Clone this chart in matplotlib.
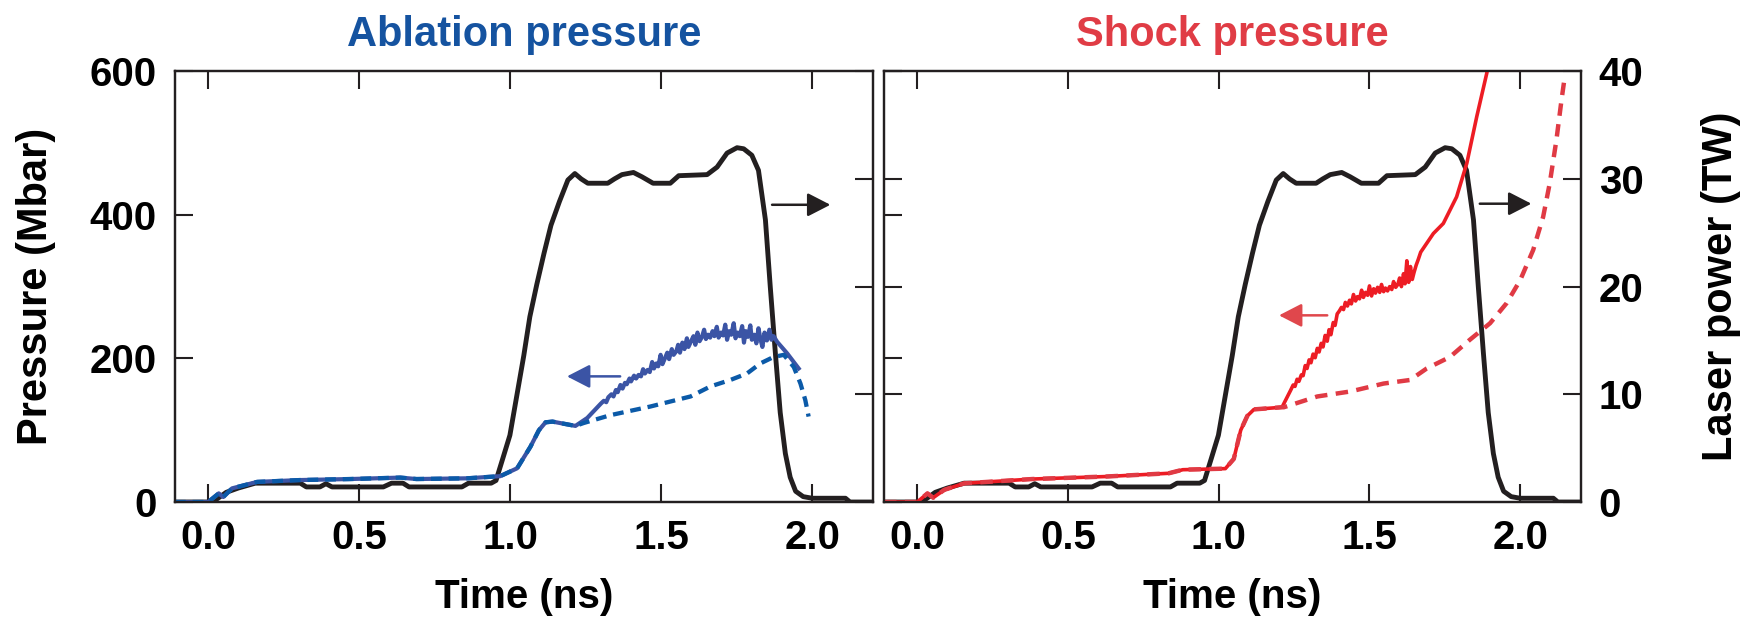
import matplotlib.pyplot as plt

# laser pulse (TW), same pulse drawn in both panels
laser_t = [-0.11, 0.0, 0.03, 0.06, 0.10, 0.156, 0.305, 0.325, 0.37, 0.39, 0.41, 0.58,
           0.607, 0.645, 0.665, 0.84, 0.862, 0.937, 0.953, 0.975, 0.999, 1.022, 1.045,
           1.065, 1.088, 1.112, 1.135, 1.163, 1.191, 1.214, 1.235, 1.257, 1.323, 1.345,
           1.370, 1.408, 1.436, 1.473, 1.530, 1.558, 1.652, 1.685, 1.718, 1.751, 1.773,
           1.800, 1.822, 1.845, 1.861, 1.878, 1.894, 1.911, 1.927, 1.945, 1.97, 2.0,
           2.11, 2.125, 2.2]
laser_tw = [0, 0, 0.3, 0.9, 1.3, 1.75, 1.75, 1.4, 1.4, 1.7, 1.4, 1.4,
            1.75, 1.75, 1.4, 1.4, 1.75, 1.75, 2.0, 4.0, 6.2, 9.9, 13.6,
            17.2, 20.2, 23.1, 25.7, 27.9, 29.9, 30.5, 30.0, 29.6, 29.6, 30.0,
            30.4, 30.6, 30.2, 29.6, 29.6, 30.3, 30.4, 31.1, 32.4, 32.9, 32.8,
            32.2, 30.8, 26.2, 20.0, 13.8, 8.3, 4.5, 2.3, 1.0, 0.5, 0.35,
            0.35, 0, 0]

# ablation pressure (Mbar): common early part, then solid and dashed branches
abl_early_t = [-0.11, 0.0, 0.035, 0.05, 0.079, 0.162, 0.305, 0.47, 0.636, 0.69, 0.857,
               0.967, 1.023, 1.067, 1.095, 1.117, 1.14, 1.216]
abl_early_p = [0, 0, 12, 7, 19, 28, 30.6, 32, 34, 32, 33,
               36, 47, 77, 100, 111, 112, 106]
abl_solid_t = [1.255, 1.30, 1.31, 1.318, 1.325, 1.335, 1.342, 1.35, 1.356, 1.365, 1.372,
               1.38, 1.386, 1.395, 1.40, 1.41, 1.417, 1.425, 1.433, 1.44, 1.446, 1.455,
               1.462, 1.47, 1.476, 1.484, 1.49, 1.498, 1.504, 1.512, 1.52, 1.526, 1.535,
               1.541, 1.55, 1.556, 1.562, 1.57, 1.577, 1.585, 1.59, 1.60, 1.607, 1.613,
               1.62, 1.627, 1.635, 1.642, 1.648, 1.655, 1.662, 1.67, 1.676, 1.684, 1.69,
               1.698, 1.705, 1.712, 1.718, 1.725, 1.732, 1.74, 1.746, 1.753, 1.76, 1.768,
               1.774, 1.78, 1.787, 1.795, 1.80, 1.808, 1.815, 1.822, 1.828, 1.835, 1.842,
               1.85, 1.858, 1.865, 1.872, 1.884, 1.917, 1.955]
abl_solid_p = [117, 137, 141, 139, 146, 150, 147, 156, 153, 163, 158,
               166, 164, 172, 168, 176, 172, 177, 175, 185, 179, 184,
               181, 195, 186, 193, 189, 205, 192, 200, 208, 199, 213,
               205, 210, 219, 208, 222, 213, 228, 216, 225, 231, 219,
               236, 224, 230, 240, 227, 233, 229, 238, 231, 244, 229,
               236, 232, 247, 226, 238, 233, 249, 228, 236, 231, 245,
               222, 238, 230, 246, 226, 233, 221, 242, 228, 216, 236,
               225, 240, 226, 231, 223, 207, 186]
abl_dash_t = [1.243, 1.332, 1.464, 1.597, 1.663, 1.729, 1.784, 1.828, 1.872, 1.906,
              1.939, 1.961, 1.977, 1.988]
abl_dash_p = [110, 121, 133, 147, 161, 170, 179, 193, 202, 205,
              188, 165, 142, 119]

# shock pressure (Mbar)
shk_early_t = [-0.11, 0.0, 0.034, 0.053, 0.09, 0.156, 0.382, 0.627, 0.834, 0.881,
               1.022, 1.05, 1.073, 1.095, 1.117, 1.21]
shk_early_p = [0, 0, 12, 6, 17, 26, 32, 35.5, 40, 45,
               46.5, 60, 100, 120, 129, 132]
shk_solid_t = [1.239, 1.247, 1.253, 1.26, 1.266, 1.274, 1.28, 1.287, 1.293, 1.30, 1.306,
               1.313, 1.32, 1.327, 1.333, 1.34, 1.346, 1.353, 1.36, 1.366, 1.372, 1.38,
               1.386, 1.393, 1.40, 1.407, 1.414, 1.42, 1.427, 1.434, 1.44, 1.447, 1.454,
               1.46, 1.467, 1.474, 1.48, 1.487, 1.494, 1.50, 1.507, 1.514, 1.52, 1.527,
               1.534, 1.54, 1.547, 1.553, 1.56, 1.567, 1.574, 1.58, 1.587, 1.594, 1.60,
               1.606, 1.613, 1.618, 1.624, 1.63, 1.636, 1.642, 1.648, 1.655, 1.662, 1.67,
               1.712, 1.745, 1.789, 1.823, 1.856, 1.889, 1.90]
shk_solid_p = [156, 163, 161, 171, 168, 177, 176, 190, 186, 198, 194,
               206, 201, 214, 209, 221, 216, 232, 224, 240, 233, 250,
               246, 262, 266, 271, 268, 278, 273, 281, 276, 289, 280,
               286, 283, 295, 285, 292, 288, 301, 287, 297, 291, 299,
               292, 303, 293, 298, 294, 300, 296, 307, 299, 303, 312,
               300, 318, 304, 336, 306, 328, 310, 320, 330, 338, 348,
               374, 388, 425, 472, 537, 597, 620]
shk_dash_t = [1.216, 1.327, 1.437, 1.547, 1.635, 1.690, 1.767, 1.833, 1.900, 1.955,
              2.0, 2.043, 2.076, 2.098, 2.12, 2.137, 2.147]
shk_dash_p = [132, 147, 154, 165, 170, 186, 202, 226, 249, 277,
              309, 351, 397, 444, 504, 560, 590]

# arrows (tail, head) in data units: pressure arrows in Mbar, laser arrows in TW
abl_arrow = [(1.364, 175), (1.188, 175)]
shk_arrow = [(1.360, 260), (1.200, 260)]
laser_arrow_l = [(1.867, 27.6), (2.06, 27.6)]
laser_arrow_r = [(1.866, 27.7), (2.037, 27.7)]

x_ticks = [0.0, 0.5, 1.0, 1.5, 2.0]
x_labels = ['0.0', '0.5', '1.0', '1.5', '2.0']
p_ticks = [0, 200, 400, 600]
tw_ticks = [0, 10, 20, 30, 40]

plt.rcParams['font.family'] = ['Liberation Sans', 'DejaVu Sans']
plt.rcParams['font.weight'] = 'bold'

ink = '#231f20'
blue_solid = '#3b54a5'
blue_dash = '#0b5aa8'
red_solid = '#ed1c24'
red_dash = '#e03a44'

fig = plt.figure(figsize=(17.53, 6.2), dpi=100)
ax_l = fig.add_axes([0.0998, 0.1903, 0.398, 0.6948])
ax_r = fig.add_axes([0.5043, 0.1903, 0.3973, 0.6948])


def setup(ax, title, tcolor, left_labels, right_labels):
    tw = ax.twinx()
    ax.set_zorder(tw.get_zorder() + 1)
    ax.patch.set_visible(False)
    ax.set_xlim(-0.11, 2.2)
    ax.set_ylim(0, 600)
    tw.set_ylim(0, 40)
    ax.set_xticks(x_ticks)
    ax.set_xticklabels(x_labels)
    ax.set_yticks(p_ticks)
    tw.set_yticks(tw_ticks)
    ax.tick_params(axis='x', direction='in', top=True, length=13, width=1.5,
                   pad=12, labelsize=29, color=ink)
    ax.tick_params(axis='y', direction='in', length=13, width=1.5, pad=13,
                   labelsize=29, color=ink, labelleft=left_labels)
    tw.tick_params(axis='y', direction='in', length=13, width=1.5, pad=13,
                   labelsize=29, color=ink, right=True, left=right_labels,
                   labelright=right_labels, labelleft=False)
    for a in (ax, tw):
        for s in a.spines.values():
            s.set_color(ink)
            s.set_linewidth(1.6)
    ax.set_title(title, color=tcolor, fontsize=30, fontweight='bold', pad=18.5)
    ax.set_xlabel('Time (ns)', fontsize=29, fontweight='bold')
    ax.xaxis.set_label_coords(0.5, -0.176)
    tw.plot(laser_t, laser_tw, color=ink, lw=3.5, solid_joinstyle='round')
    return tw


def arrow(ax, pts, color):
    ax.annotate('', xy=pts[1], xytext=pts[0],
                arrowprops=dict(arrowstyle='-|>,head_length=0.7,head_width=0.36',
                                mutation_scale=20, lw=1.8, color=color,
                                shrinkA=0, shrinkB=0))


# left panel: ablation pressure
tw_l = setup(ax_l, 'Ablation pressure', '#1553a0', True, False)
ax_l.plot(abl_early_t + abl_solid_t, abl_early_p + abl_solid_p, color=blue_solid, lw=3.0)
ax_l.plot(abl_early_t + abl_dash_t, abl_early_p + abl_dash_p, color=blue_dash, lw=3.1,
          dashes=(2.5, 1.6))
ax_l.set_ylabel('Pressure (Mbar)', fontsize=30, fontweight='bold')
ax_l.yaxis.set_label_coords(-0.1706, 0.5)
arrow(ax_l, abl_arrow, blue_solid)
arrow(tw_l, laser_arrow_l, ink)

# right panel: shock pressure
tw_r = setup(ax_r, 'Shock pressure', '#e03c45', False, True)
ax_r.plot(shk_early_t + shk_solid_t, shk_early_p + shk_solid_p, color=red_solid, lw=2.6)
ax_r.plot(shk_early_t + shk_dash_t, shk_early_p + shk_dash_p, color=red_dash, lw=3.2,
          dashes=(2.8, 1.9))
tw_r.set_ylabel('Laser power (TW)', fontsize=30, fontweight='bold')
tw_r.yaxis.set_label_coords(1.173, 0.5)
arrow(ax_r, shk_arrow, '#e0474c')
arrow(tw_r, laser_arrow_r, ink)

fig.savefig('out.png', dpi=100)
